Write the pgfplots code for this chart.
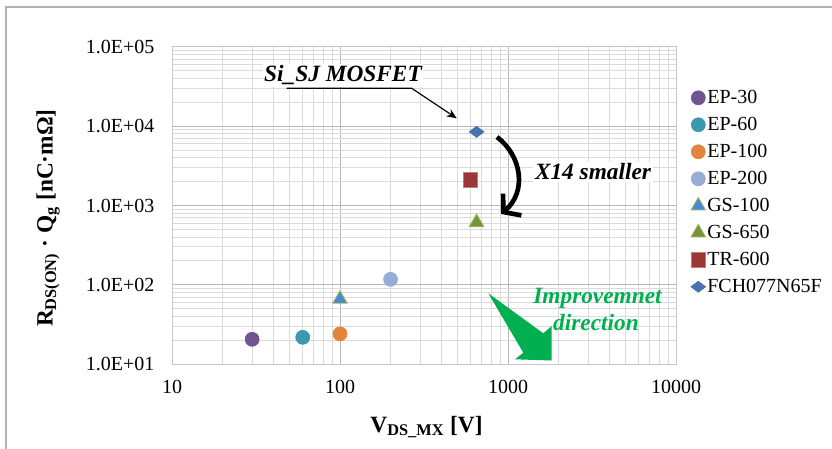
\documentclass[border=0pt]{standalone}
\usepackage{fontspec}
\setmainfont{Liberation Serif}
\usepackage{pgfplots}
\pgfplotsset{compat=1.18}
\usetikzlibrary{arrows.meta}
\definecolor{ep30}{HTML}{705492}
\definecolor{ep60}{HTML}{3C98AE}
\definecolor{ep100}{HTML}{E2843B}
\definecolor{ep200}{HTML}{96ADD6}
\definecolor{gs100}{HTML}{4D89D0}
\definecolor{gsedge}{HTML}{9BBB59}
\definecolor{gs650}{HTML}{76923C}
\definecolor{gs650edge}{HTML}{8DB84A}
\definecolor{tr600}{HTML}{983734}
\definecolor{tredge}{HTML}{C87876}
\definecolor{fch}{HTML}{4672AE}
\definecolor{imp}{HTML}{00B050}
\begin{document}
\begin{tikzpicture}
\path[use as bounding box] (0,0) rectangle (499.2pt,-269.4pt);
\begin{axis}[
  at={(103.2pt,-218.4pt)}, anchor=south west,
  width=302.4pt, height=190.2pt, scale only axis,
  xmode=log, ymode=log,
  xmin=10, xmax=10000, ymin=10, ymax=100000,
  xtick={10,100,1000,10000}, xticklabels={10,100,1000,10000},
  ytick={10,100,1000,10000,100000},
  yticklabels={1.0E+01,1.0E+02,1.0E+03,1.0E+04,1.0E+05},
  grid=both,
  major grid style={draw=black!28, line width=0.6pt},
  minor grid style={draw=black!14, line width=0.6pt},
  axis line style={draw=black!22, line width=0.6pt},
  major tick length=0pt, minor tick length=0pt,
  tick label style={font=\fontsize{12}{14}\selectfont},
  yticklabel style={xshift=-7pt},
  xticklabel style={yshift=-6pt},
  xlabel={\textbf{V\textsubscript{DS\_MX} [V]}},
  xlabel style={at={(axis description cs:0.505,-0.215)}, anchor=base, font=\fontsize{14}{16}\selectfont},
  ylabel={\textbf{R\textsubscript{DS(ON)} · Q\textsubscript{g} [nC·mΩ]}},
  ylabel style={at={(axis description cs:-0.246,0.46)}, anchor=center, rotate=0, font=\fontsize{14}{16}\selectfont},
  legend image code/.code={\path (0cm,0cm) (0.26cm,0cm); \draw[#1,only marks] plot coordinates {(0.13cm,0cm)};},
  legend style={at={(1.029,0.875)}, anchor=north west, draw=none, fill=none,
    inner sep=0pt, row sep=3.2pt,
    font=\fontsize{12}{14}\selectfont,
    nodes={inner xsep=1pt, inner ysep=1pt, text height=9pt, text depth=2pt}},
  legend cell align=left,
  clip=false,
]
\addplot[only marks, mark=*, mark size=4.2pt, draw=ep30, fill=ep30] coordinates {(30,20.5)};
\addlegendentry{EP-30}
\addplot[only marks, mark=*, mark size=4.2pt, draw=ep60, fill=ep60] coordinates {(60,21.7)};
\addlegendentry{EP-60}
\addplot[only marks, mark=*, mark size=4.2pt, draw=ep100, fill=ep100] coordinates {(100,24)};
\addlegendentry{EP-100}
\addplot[only marks, mark=*, mark size=4.2pt, draw=ep200, fill=ep200] coordinates {(200,117)};
\addlegendentry{EP-200}
\addplot[only marks, mark=triangle*, mark size=5pt, draw=gsedge, fill=gs100, line width=0.5pt] coordinates {(100,66)};
\addlegendentry{GS-100}
\addplot[only marks, mark=triangle*, mark size=5pt, draw=gs650edge, fill=gs650, line width=0.5pt] coordinates {(650,610)};
\addlegendentry{GS-650}
\addplot[only marks, mark=square*, mark size=4.3pt, draw=tredge, fill=tr600, line width=0.5pt] coordinates {(600,2100)};
\addlegendentry{TR-600}
\addplot[only marks, mark=diamond*, mark size=4.4pt, mark options={rotate=90}, draw=fch, fill=fch] coordinates {(650,8500)};
\addlegendentry{FCH077N65F}
\end{axis}
\begin{scope}[x=0.6pt,y=-0.6pt]
\draw[black!30, line width=0.8pt] (6,449) -- (6,7) -- (832,7);
% Si_SJ annotation
\node[fill=white, inner sep=1pt, anchor=base, font=\bfseries\itshape\fontsize{14}{16}\selectfont] at (343,81.7) {Si\_SJ MOSFET};
\draw[line width=0.7pt, -{Stealth[length=6pt,width=5pt]}] (286.7,88.3) -- (411.7,88.3) -- (456.7,118.3);
% curved arrow
\draw[line width=2.8pt, -{Straight Barb[length=7pt,width=17pt]}] (497,137) .. controls (522,156) and (527,192) .. (501,214);
\node[fill=white, inner sep=1pt, anchor=base, font=\bfseries\itshape\fontsize{14}{16}\selectfont] at (593,180) {X14 smaller};
% improvement arrow
\fill[imp] (488.3,293.3) -- (543.3,333.3) -- (551.7,326) -- (551.5,360.5) -- (515,359.3) -- (523.3,352.7) -- cycle;
\node[anchor=base, text=imp, font=\bfseries\itshape\fontsize{14}{16}\selectfont] at (597.5,303.3) {Improvemnet};
\node[anchor=base, text=imp, font=\bfseries\itshape\fontsize{14}{16}\selectfont] at (596,330) {direction};
\end{scope}
\end{tikzpicture}
\end{document}
